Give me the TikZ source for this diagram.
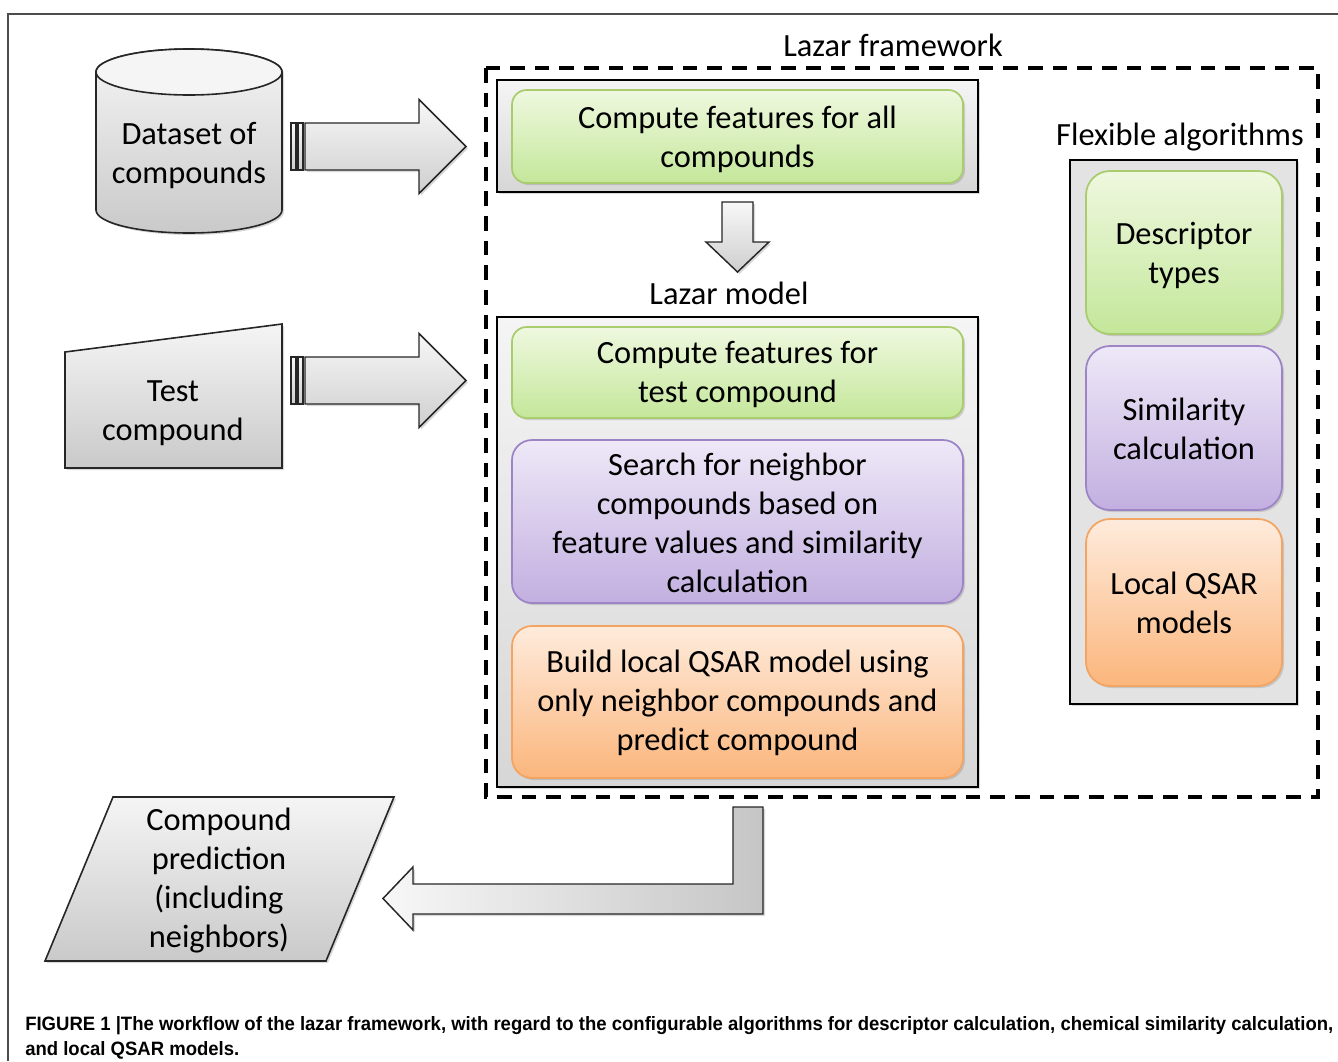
\documentclass[tikz,border=0pt]{standalone}
\usepackage{graphicx}
\usepackage{fontspec}
\setmainfont{Carlito}
\newfontfamily\capfont{Liberation Sans}
\usetikzlibrary{shadows}
\definecolor{grnT}{HTML}{EFF8DF}
\definecolor{grnB}{HTML}{C4E79A}
\definecolor{grnD}{HTML}{A9CC6E}
\definecolor{purT}{HTML}{EEE8F7}
\definecolor{purB}{HTML}{C2AFE0}
\definecolor{purD}{HTML}{9C84C6}
\definecolor{orgT}{HTML}{FEEBDC}
\definecolor{orgB}{HTML}{FBB67C}
\definecolor{orgD}{HTML}{F4A462}
\newlength\capw
\newcommand\capfirst{FIGURE 1 |The workflow of the lazar framework, with regard to the configurable algorithms for descriptor calculation, chemical similarity calculation,}
\newcommand\capsetfont{\capfont\bfseries\fontsize{14.5pt}{18pt}\selectfont}
\begin{document}
\begin{tikzpicture}[x=0.75pt,y=0.75pt,
  txt/.style={align=center, font=\fontsize{24.3pt}{29.25pt}\selectfont, inner sep=0pt},
  captxt/.style={anchor=base west, inner sep=0pt},
  shad/.style={drop shadow={shadow xshift=1.5pt, shadow yshift=-1.5pt, opacity=0.3}},
  graybox/.style={shad, draw=black, line width=1.3pt, top color=gray!8, bottom color=gray!32},
  grayboxflat/.style={shad, draw=black, line width=1.3pt, fill=gray!22},
  shapefill/.style={shad, draw=black!85, line width=1.2pt, top color=gray!8, bottom color=gray!42},
  arrowfill/.style={shad, draw=black!85, line width=1.1pt, top color=gray!6, bottom color=gray!38},
  stripefill/.style={draw=black!85, line width=0.9pt, top color=gray!6, bottom color=gray!38},
  harrowfill/.style={shad, draw=black!85, line width=1.1pt, left color=gray!6, right color=gray!45},
  greenbox/.style={shad, draw=grnD, line width=1.3pt, top color=grnT, bottom color=grnB},
  purplebox/.style={shad, draw=purD, line width=1.3pt, top color=purT, bottom color=purB},
  orangebox/.style={shad, draw=orgD, line width=1.3pt, top color=orgT, bottom color=orgB},
  dashframe/.style={draw=black, line width=2.3pt, dash pattern=on 11pt off 7.5pt}
]
\useasboundingbox (0,0) rectangle (1338,-1061);
% outer frame
\draw[black!70, line width=1.2pt] (8,-1061) -- (8,-14) -- (1338,-14);

% ---------- dataset cylinder
\draw[shapefill] (96,-72) -- (96,-210) arc[start angle=180, end angle=360, x radius=93, y radius=23]
  -- (282,-72) arc[start angle=0, end angle=180, x radius=93, y radius=23] -- cycle;
\draw[black!85, line width=1.2pt, fill=gray!8] (189,-72) ellipse [x radius=93, y radius=23];
\node[txt] (dataset) at (189,-155) {Dataset of\\compounds};

% ---------- test compound (manual input)
\draw[shapefill] (65,-352) -- (282,-324) -- (282,-468) -- (65,-468) -- cycle;
\node[txt] (test) at (173,-413) {Test\\compound};

% ---------- block arrows right
\foreach \cy/\nm in {146.5/a, 380.5/b}{
  \draw[stripefill] (291,-\cy+23.5) rectangle (296,-\cy-23.5);
  \draw[stripefill] (298,-\cy+23.5) rectangle (303,-\cy-23.5);
  \draw[arrowfill] (305,-\cy+23.5) -- (419,-\cy+23.5) -- (419,-\cy+47) -- (466,-\cy)
     -- (419,-\cy-47) -- (419,-\cy-23.5) -- (305,-\cy-23.5) -- cycle;
}

% ---------- Lazar framework frame
\draw[dashframe] (486,-68) rectangle (1318,-797);
\node[txt] (lfw) at (893,-45) {Lazar framework};

% box 1
\draw[graybox] (497,-80) rectangle (978,-192);
\draw[greenbox, rounded corners=11pt] (512,-90) rectangle (963,-183);
\node[txt] (cfall) at (737.5,-139) {Compute features for all\\compounds};

% down arrow
\draw[arrowfill] (722,-202) -- (753,-202) -- (753,-242) -- (769,-242) -- (737.5,-272)
   -- (706,-242) -- (722,-242) -- cycle;

\node[txt] (lmodel) at (729,-293) {Lazar model};

% box 2
\draw[graybox] (497,-317) rectangle (978,-787);
\draw[greenbox, rounded corners=11pt] (512,-327) rectangle (963,-418);
\node[txt] (cftest) at (737.5,-374.5) {Compute features for\\test compound};
\draw[purplebox, rounded corners=15pt] (512,-440) rectangle (963,-603);
\node[txt] (search) at (737.5,-523) {Search for neighbor\\compounds based on\\feature values and similarity\\calculation};
\draw[orangebox, rounded corners=15pt] (512,-626) rectangle (963,-778);
\node[txt] (build) at (737.5,-703) {Build local QSAR model using\\only neighbor compounds and\\predict compound};

% flexible algorithms
\node[txt] (flex) at (1180,-137) {Flexible algorithms};
\draw[grayboxflat] (1070,-160) rectangle (1297,-704);
\draw[greenbox, rounded corners=18pt] (1086,-171) rectangle (1282,-334);
\node[txt] (desc) at (1184,-255.5) {Descriptor\\types};
\draw[purplebox, rounded corners=18pt] (1086,-346) rectangle (1282,-510);
\node[txt] (sim) at (1184,-429) {Similarity\\calculation};
\draw[orangebox, rounded corners=18pt] (1086,-519) rectangle (1282,-686);
\node[txt] (local) at (1184,-603) {Local QSAR\\models};

% ---------- L arrow to prediction
\draw[harrowfill] (733,-807) -- (763,-807) -- (763,-914) -- (413,-914) -- (413,-930)
   -- (383,-898.5) -- (413,-867) -- (413,-884) -- (733,-884) -- cycle;

% ---------- prediction parallelogram
\draw[shapefill] (113,-797) -- (394,-797) -- (326,-961) -- (45,-961) -- cycle;
\node[txt] (pred) at (219,-881) {Compound\\prediction\\(including\\neighbors)};

% ---------- caption
\node[captxt] (cap1) at (25,-1030) {\capsetfont\settowidth\capw{\capfirst}\pgfmathsetmacro\capsc{981/\capw}\global\let\capscG\capsc\scalebox{\capsc}[1]{\capfirst}};
\node[captxt] (cap2) at (25,-1055) {\capsetfont\scalebox{\capscG}[1]{and local QSAR models.}};
\end{tikzpicture}
\end{document}
